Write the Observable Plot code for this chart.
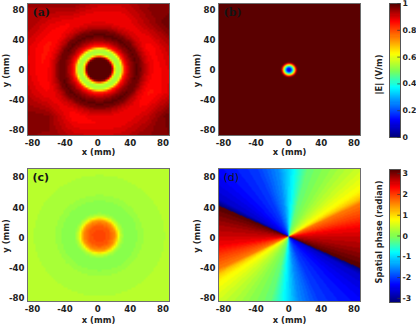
<!DOCTYPE html>
<html><head><meta charset="utf-8">
<script src="https://cdn.jsdelivr.net/npm/d3@7"></script>
<script src="https://cdn.jsdelivr.net/npm/@observablehq/plot@0.6"></script>
<style>
html,body{margin:0;padding:0;background:#fff;overflow:hidden}
#c{position:relative;width:416px;height:325px}
#c svg{position:absolute;overflow:visible;background:transparent}
</style></head><body><div id="c"></div>
<script>
const tickValues = [-80,-40,0,40,80];
const fieldTicks = [0,0.2,0.4,0.6,0.8,1];
const phaseTicks = [-3,-2,-1,0,1,2,3];
const jetStops = ["#00007f","#0000ff","#0080ff","#00ffff","#80ff50","#ffff00","#ff8000","#ff0000","#5a0000"];

// Panel (a): field magnitude versus radius (mm)
const radiiA = [0,14,16,18,20,22,24,26,28,30,33,36,40,45,50,55,60,65,70,75,80,90,100,130];
const fieldA = [1,1,0.93,0.7,0.57,0.54,0.54,0.56,0.66,0.82,0.88,0.92,0.96,0.99,0.975,0.93,0.9,0.88,0.875,0.88,0.89,0.91,0.93,0.94];
// Panel (a): departures from the circular profile, rows y = 90 … -90, columns x = -90 … 90
const gridNodes = [-90,-60,-30,0,30,60,90];
const offsetsA = [
 [0,.01,.04,.01,0,.02,.02],
 [0,-.01,0,0,0,.03,.05],
 [-.02,-.02,0,0,0,-.01,.01],
 [-.01,-.015,0,0,0,0,-.01],
 [0,0,0,0,0,-.02,-.015],
 [.02,.05,-.01,0,0,.01,.05],
 [.02,.01,0,0,0,.02,.03]
];
// Panel (b): field magnitude versus radius
const radiiB = [0,2,3,4.5,6,7,8,9,10,12,200];
const fieldB = [0.12,0.14,0.2,0.37,0.55,0.68,0.82,0.93,0.98,1,1];
// Panel (c): phase versus radius
const radiiC = [0,5,12,19,21,23,25,27,30,36,42,50,60,70,80,130];
const phaseC = [2.0,1.95,1.85,1.5,1.25,0.85,0.5,0.3,0.1,0.03,0.04,0.15,0.28,0.26,0.3,0.3];
// Panel (d): phase versus angle (degrees, counter-clockwise), one half turn
const anglesD = [-25.5,-10,0,8,16.5,26.6,30,35,46,60,76,88,98,113,135,150,154.5];
const phaseD = [3.2,2.8,2.6,2.4,2.0,1.6,1.15,0.8,0.45,0.1,-0.2,-0.9,-1.5,-2.0,-2.35,-2.7,-3.2];

const font = "'DejaVu Sans',sans-serif";
const jet = d3.piecewise(d3.interpolateRgb, jetStops);
const fieldColor = {type:"quantize", domain:[0,1], range:d3.quantize(jet,64)};
const phaseColor = {type:"quantize", domain:[-3.2,3.2], range:d3.quantize(jet,64)};
const lookup = (dom,ran) => d3.scaleLinear().domain(dom).range(ran).clamp(true);

const profA = lookup(radiiA,fieldA), profB = lookup(radiiB,fieldB), profC = lookup(radiiC,phaseC), profD = lookup(anglesD,phaseD);
function offsetA(x,y){
  const u = Math.max(0,Math.min(5.999,(x+90)/30)), v = Math.max(0,Math.min(5.999,(90-y)/30));
  const i=Math.floor(u), j=Math.floor(v), a=u-i, b=v-j;
  return (1-b)*((1-a)*offsetsA[j][i]+a*offsetsA[j][i+1]) + b*((1-a)*offsetsA[j+1][i]+a*offsetsA[j+1][i+1]);
}
const fillA = (x,y)=> profA(Math.hypot(x-2,y-1)) + offsetA(x,y);
const fillB = (x,y)=> profB(Math.hypot(x-0.5,y-0.5));
const fillC = (x,y)=> profC(Math.hypot(x-2,y-3));
const fillD = (x,y)=> {
  let t = Math.atan2(y-2,x)*180/Math.PI;
  const cut = 154.5;
  while (t >= cut) t -= 180;
  while (t < cut-180) t += 180;
  return profD(t);
};

const root = document.getElementById("c");
function place(svg,left,top){ svg.style.left=left+"px"; svg.style.top=top+"px"; root.appendChild(svg); }
const ink = "#222";

function panel(fill,color,label,labelFont,labelWeight,left,top,xDom,yDom,pix,innerH,xLabelDy){
  const w=190, h=170;
  const svg = Plot.plot({
    width:w, height:h, marginLeft:27, marginRight:w-27-142, marginTop:3, marginBottom:h-3-innerH,
    style:{background:"transparent",fontFamily:font},
    x:{domain:xDom}, y:{domain:yDom}, color,
    marks:[
      Plot.raster({fill,x1:xDom[0],x2:xDom[1],y1:yDom[0],y2:yDom[1],pixelSize:pix}),
      Plot.frame({stroke:"#6e6e6e",strokeWidth:1}),
      Plot.axisX(tickValues,{tickSize:0,tickPadding:4,tickFormat:String,fontSize:8.6,fontWeight:"bold",fill:ink,label:null}),
      Plot.axisY(tickValues,{tickSize:0,tickPadding:3,tickFormat:String,fontSize:8.6,fontWeight:"bold",fill:ink,label:null}),
      Plot.text(["x (mm)"],{frameAnchor:"bottom",dy:xLabelDy,fontSize:8.4,fontWeight:"bold",fill:ink}),
      Plot.text(["y (mm)"],{frameAnchor:"left",textAnchor:"middle",dx:-21,dy:1,rotate:-90,fontSize:8.4,fontWeight:"bold",fill:ink}),
      Plot.text([label],{frameAnchor:"top-left",dx:5,dy:5,fontSize:11,fontFamily:labelFont,fontWeight:labelWeight,fill:"#151515",textAnchor:"start"})
    ]
  });
  place(svg,left,top);
}

function bar(color,ticks,dom,title,titleDy,left,top,bw,bh){
  const w=39, h=bh+8;
  const svg = Plot.plot({
    width:w, height:h, marginLeft:12, marginRight:w-12-bw, marginTop:3, marginBottom:5,
    style:{background:"transparent",fontFamily:font},
    x:{domain:[0,1],axis:null}, y:{domain:dom,axis:null}, color,
    marks:[
      Plot.raster({fill:(x,y)=>y,x1:0,x2:1,y1:dom[0],y2:dom[1],pixelSize:1}),
      Plot.frame({stroke:"#555"}),
      Plot.ruleY(ticks,{x1:0.75,x2:1,stroke:"#333",strokeWidth:0.7}),
      Plot.text(ticks,{x:1,y:d=>d,text:d=>String(d),dx:2,textAnchor:"start",fontSize:7.8,fontWeight:"bold",fill:ink}),
      Plot.text([title],{frameAnchor:"left",textAnchor:"middle",dx:-10,dy:titleDy,rotate:-90,fontSize:8.2,fontWeight:"bold",fill:ink})
    ]
  });
  place(svg,left,top);
}

panel(fillA,fieldColor,"(a)","'DejaVu Serif',serif","bold",0,0,[-86,88],[-86.6,88.4],2,132,19);
panel(fillB,fieldColor,"(b)","'DejaVu Serif',serif","bold",191,0,[-86,88],[-86.6,88.4],1,132,19);
panel(fillC,phaseColor,"(c)",font,"bold",0,165,[-86,88],[-84,92],2,133,21);
panel(fillD,phaseColor,"(d)",font,"normal",191,165,[-86,88],[-84,92],1,133,21);
bar(fieldColor,fieldTicks,[0,1],"|E| (V/m)",4,377,0,11,134);
bar(phaseColor,phaseTicks,[-3.2,3.2],"Spatial phase (radian)",-4,377,166,11,133);
</script></body></html>
